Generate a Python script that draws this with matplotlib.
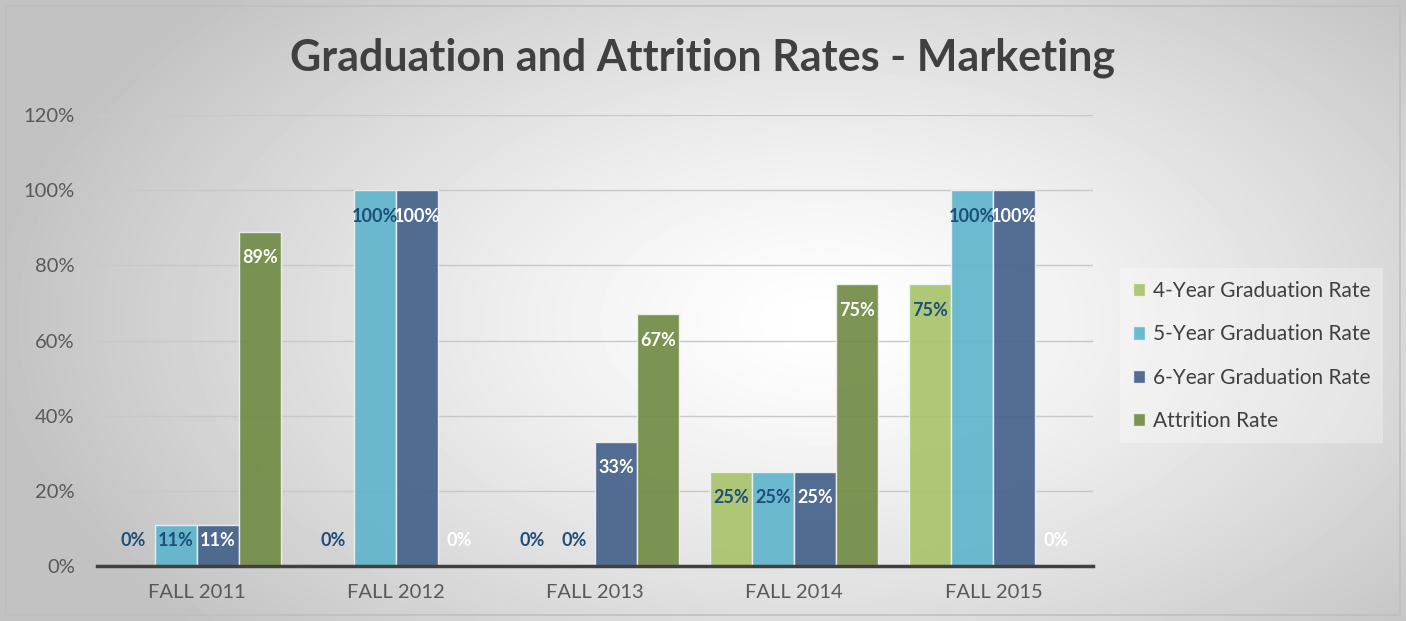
import numpy as np
import matplotlib.pyplot as plt
from matplotlib.patches import Rectangle

# Chart data
categories = ["FALL 2011", "FALL 2012", "FALL 2013", "FALL 2014", "FALL 2015"]
grad_4yr = [0, 0, 0, 25, 75]
grad_5yr = [11, 100, 0, 25, 100]
grad_6yr = [11, 100, 33, 25, 100]
attrition = [89, 0, 67, 75, 0]
series_names = ["4-Year Graduation Rate", "5-Year Graduation Rate",
                "6-Year Graduation Rate", "Attrition Rate"]
y_ticks = [0, 20, 40, 60, 80, 100, 120]

series = [grad_4yr, grad_5yr, grad_6yr, attrition]
colors = ["#a9c46c", "#5fb5cd", "#45618a", "#718c45"]
label_colors = ["#1f4e79", "#1f4e79", "white", "white"]

plt.rcParams['font.family'] = ['Lato', 'DejaVu Sans']

fig = plt.figure(figsize=(14.06, 6.21), dpi=100)

# radial gradient background
bg = fig.add_axes([0, 0, 1, 1], zorder=-10)
yy, xx = np.mgrid[0:621, 0:1406]
r = np.sqrt(((xx - 820) / 880.0) ** 2 + ((yy - 320) / 500.0) ** 2)
shade = np.clip(1.0 - 0.26 * r ** 1.3, 0.76, 1.0)
bg.imshow(shade, cmap="gray", vmin=0, vmax=1, aspect="auto",
          extent=[0, 1, 0, 1], origin="upper")
bg.add_patch(Rectangle((6 / 1406, 6 / 621), 1394 / 1406, 609 / 621,
                       fill=False, edgecolor="#bfbfbf", lw=1.2,
                       transform=bg.transAxes))
bg.set_axis_off()

ax = fig.add_axes([97 / 1406, 1 - 566 / 621, 996 / 1406, 451 / 621])
ax.patch.set_alpha(0)

x = np.arange(len(categories))
w = 0.211
for i, vals in enumerate(series):
    pos = x + (i - 1.5) * w
    ax.bar(pos, vals, w, color=colors[i], alpha=0.92, edgecolor="#f2f2f2",
           linewidth=1.0, label=series_names[i], zorder=3)
    for p, v in zip(pos, vals):
        # inside end label, but never below the baseline
        ax.text(p, max(v - 6.9, 6.9), f"{v}%", ha="center", va="center",
                fontsize=13, fontweight="bold", color=label_colors[i], zorder=5)

ax.set_xlim(-0.5, len(categories) - 0.5)
ax.set_ylim(0, 120)
ax.set_yticks(y_ticks)
ax.set_yticklabels([f"{t}%" for t in y_ticks])
ax.set_xticks(x)
ax.set_xticklabels(categories)
ax.tick_params(axis="both", length=0, labelsize=14.5, colors="#595959")
ax.tick_params(axis="y", pad=16)
ax.tick_params(axis="x", pad=13)
ax.grid(axis="y", color="#c8c8c8", lw=1.0, zorder=0)
for s in ["top", "right", "left"]:
    ax.spines[s].set_visible(False)
ax.spines["bottom"].set_color("#404040")
ax.spines["bottom"].set_linewidth(2.5)
ax.spines["bottom"].set_zorder(6)

fig.text(0.5, 1 - 58 / 621, "Graduation and Attrition Rates - Marketing",
         ha="center", va="center", fontsize=31, fontweight="bold", color="#404040")

leg = ax.legend(loc="upper left", bbox_to_anchor=(1110 / 1406, 1 - 258 / 621),
                bbox_transform=fig.transFigure, frameon=True, fontsize=15,
                handlelength=0.6, handleheight=0.6, handletextpad=0.35,
                labelspacing=1.12, borderpad=0.6, fancybox=False,
                labelcolor="#404040")
leg.get_frame().set_facecolor("white")
leg.get_frame().set_alpha(0.3)
leg.get_frame().set_edgecolor("none")

fig.savefig("out.png", dpi=100)
